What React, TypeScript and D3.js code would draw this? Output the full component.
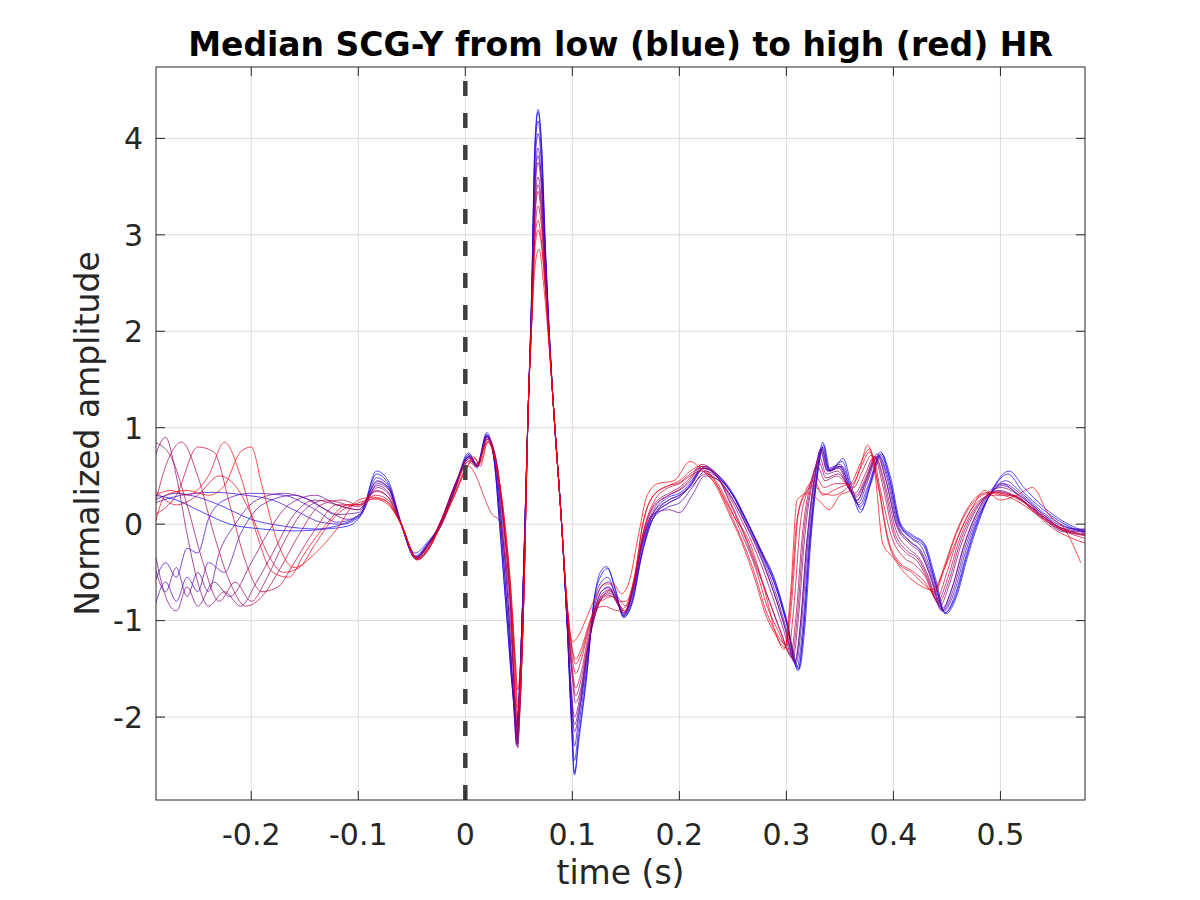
import React from "react";
import * as d3 from "d3";

// ---- data ----
const T_TICKS = [-0.2, -0.1, 0, 0.1, 0.2, 0.3, 0.4, 0.5];
const A_TICKS = [-2, -1, 0, 1, 2, 3, 4];
const T_DOMAIN = [-0.289, 0.579];
const A_DOMAIN = [-2.86, 4.74];

// median SCG-Y beats, from low HR (blue) to high HR (red): [time s, amplitude]
const curve0 = [[-0.29,0.3],[-0.27,0.25],[-0.245,0.12],[-0.22,0.0],[-0.19,-0.05],[-0.16,-0.07],[-0.13,-0.05],[-0.11,-0.02],[-0.097,0.1],[-0.083,0.52],[-0.072,0.42],[-0.06,0.0],[-0.047,-0.33],[-0.035,-0.2],[-0.022,0.0],[-0.01,0.35],[0.003,0.72],[0.011,0.6],[0.02,0.93],[0.027,0.65],[0.032,0.0],[0.039,-1.0],[0.044,-1.7],[0.048,-2.05],[0.05,-1.8],[0.053,-1.0],[0.059,1.28],[0.062,2.4],[0.065,3.9],[0.068,4.27],[0.071,3.95],[0.075,2.8],[0.082,1.28],[0.09,0.0],[0.095,-1.0],[0.099,-2.0],[0.102,-2.58],[0.106,-2.2],[0.114,-1.5],[0.12,-0.8],[0.126,-0.55],[0.133,-0.46],[0.14,-0.68],[0.148,-0.97],[0.156,-0.8],[0.165,-0.3],[0.175,0.1],[0.19,0.28],[0.2,0.32],[0.21,0.42],[0.222,0.6],[0.235,0.5],[0.25,0.3],[0.262,0.05],[0.276,-0.27],[0.29,-0.62],[0.3,-1.0],[0.311,-1.52],[0.316,-1.1],[0.322,-0.15],[0.329,0.55],[0.334,0.85],[0.34,0.56],[0.352,0.65],[0.362,0.3],[0.369,0.12],[0.378,0.4],[0.388,0.75],[0.396,0.5],[0.406,0.0],[0.418,-0.13],[0.428,-0.2],[0.438,-0.55],[0.448,-0.92],[0.458,-0.75],[0.468,-0.35],[0.478,0.0],[0.49,0.3],[0.507,0.52],[0.52,0.35],[0.54,0.15],[0.56,0.0],[0.58,-0.1]];
const curveA = [[-0.29,0.25],[-0.27,0.32],[-0.25,0.28],[-0.23,0.2],[-0.2,0.05],[-0.17,-0.02],[-0.14,-0.05],[-0.115,0.0],[-0.097,0.12],[-0.083,0.55],[-0.072,0.45],[-0.06,0.02],[-0.047,-0.3],[-0.035,-0.18],[-0.022,0.02],[-0.01,0.36],[0.003,0.74],[0.011,0.62],[0.02,0.95],[0.027,0.66],[0.032,0.0],[0.039,-1.0],[0.044,-1.72],[0.048,-2.1],[0.05,-1.82],[0.053,-1.0],[0.059,1.28],[0.062,2.45],[0.065,3.95],[0.068,4.3],[0.071,4.0],[0.075,2.85],[0.082,1.28],[0.09,0.0],[0.095,-1.02],[0.099,-2.05],[0.102,-2.6],[0.106,-2.25],[0.114,-1.52],[0.12,-0.82],[0.126,-0.5],[0.132,-0.44],[0.14,-0.66],[0.148,-0.96],[0.156,-0.82],[0.165,-0.32],[0.175,0.05],[0.19,0.25],[0.2,0.3],[0.21,0.4],[0.222,0.58],[0.235,0.52],[0.25,0.32],[0.262,0.06],[0.276,-0.26],[0.29,-0.6],[0.3,-0.98],[0.312,-1.5],[0.317,-1.1],[0.323,-0.15],[0.33,0.6],[0.335,0.82],[0.341,0.55],[0.353,0.68],[0.362,0.35],[0.37,0.15],[0.379,0.42],[0.389,0.73],[0.397,0.5],[0.407,0.0],[0.419,-0.12],[0.429,-0.2],[0.439,-0.55],[0.449,-0.93],[0.459,-0.75],[0.469,-0.35],[0.479,0.0],[0.492,0.35],[0.508,0.55],[0.522,0.38],[0.54,0.18],[0.56,0.02],[0.58,-0.08]];
const curve1 = [[-0.29,0.22],[-0.265,0.3],[-0.235,0.33],[-0.205,0.3],[-0.18,0.25],[-0.155,0.12],[-0.135,0.02],[-0.115,0.0],[-0.097,0.1],[-0.083,0.48],[-0.072,0.4],[-0.06,0.0],[-0.047,-0.35],[-0.035,-0.22],[-0.022,0.0],[-0.01,0.35],[0.003,0.7],[0.011,0.58],[0.02,0.92],[0.027,0.66],[0.033,0.0],[0.04,-1.0],[0.045,-1.75],[0.048,-2.1],[0.05,-1.85],[0.053,-1.0],[0.059,1.28],[0.062,2.35],[0.065,3.8],[0.068,4.18],[0.071,3.85],[0.075,2.75],[0.082,1.28],[0.09,0.0],[0.095,-1.0],[0.099,-1.95],[0.102,-2.45],[0.106,-2.1],[0.114,-1.45],[0.12,-0.85],[0.127,-0.6],[0.133,-0.55],[0.14,-0.72],[0.148,-0.95],[0.156,-0.78],[0.165,-0.3],[0.175,0.05],[0.19,0.22],[0.2,0.28],[0.21,0.4],[0.223,0.58],[0.236,0.5],[0.25,0.3],[0.262,0.05],[0.276,-0.28],[0.29,-0.65],[0.3,-1.02],[0.311,-1.5],[0.316,-1.1],[0.322,-0.2],[0.329,0.5],[0.334,0.8],[0.34,0.55],[0.352,0.6],[0.362,0.3],[0.369,0.18],[0.378,0.42],[0.388,0.72],[0.396,0.48],[0.406,0.0],[0.418,-0.15],[0.428,-0.22],[0.438,-0.56],[0.448,-0.92],[0.458,-0.72],[0.468,-0.32],[0.478,0.02],[0.49,0.3],[0.505,0.45],[0.52,0.32],[0.54,0.12],[0.56,-0.02],[0.58,-0.08]];
const curve2 = [[-0.29,-0.6],[-0.28,-0.4],[-0.27,-0.55],[-0.26,-0.25],[-0.25,-0.3],[-0.24,0.05],[-0.225,0.25],[-0.2,0.32],[-0.17,0.3],[-0.14,0.15],[-0.12,0.02],[-0.1,0.08],[-0.082,0.45],[-0.072,0.38],[-0.06,0.0],[-0.046,-0.34],[-0.035,-0.2],[-0.022,0.02],[-0.01,0.38],[0.004,0.72],[0.011,0.6],[0.02,0.92],[0.027,0.68],[0.033,0.0],[0.04,-1.0],[0.045,-1.8],[0.048,-2.2],[0.05,-1.9],[0.053,-1.0],[0.059,1.28],[0.062,2.3],[0.065,3.7],[0.068,4.05],[0.071,3.75],[0.075,2.7],[0.082,1.28],[0.09,0.0],[0.095,-1.0],[0.099,-1.85],[0.102,-2.3],[0.106,-2.0],[0.114,-1.4],[0.12,-0.9],[0.127,-0.65],[0.134,-0.6],[0.141,-0.75],[0.148,-0.93],[0.156,-0.75],[0.165,-0.25],[0.175,0.05],[0.19,0.18],[0.2,0.22],[0.212,0.38],[0.224,0.55],[0.236,0.48],[0.25,0.3],[0.262,0.05],[0.276,-0.28],[0.29,-0.65],[0.3,-1.02],[0.31,-1.48],[0.315,-1.1],[0.321,-0.2],[0.328,0.5],[0.333,0.78],[0.339,0.55],[0.35,0.6],[0.36,0.35],[0.368,0.2],[0.377,0.42],[0.387,0.7],[0.395,0.48],[0.405,0.0],[0.417,-0.15],[0.427,-0.25],[0.437,-0.55],[0.447,-0.9],[0.457,-0.7],[0.467,-0.3],[0.477,0.02],[0.489,0.28],[0.503,0.42],[0.52,0.3],[0.54,0.1],[0.56,-0.03],[0.58,-0.06]];
const curve3 = [[-0.29,-0.85],[-0.28,-0.6],[-0.27,-0.8],[-0.26,-0.55],[-0.25,-0.7],[-0.24,-0.4],[-0.225,-0.5],[-0.21,-0.1],[-0.19,0.2],[-0.16,0.3],[-0.13,0.15],[-0.11,0.05],[-0.095,0.15],[-0.082,0.42],[-0.071,0.35],[-0.06,0.0],[-0.046,-0.36],[-0.035,-0.22],[-0.022,0.02],[-0.01,0.38],[0.004,0.7],[0.011,0.6],[0.02,0.9],[0.028,0.66],[0.034,0.0],[0.041,-1.0],[0.045,-1.8],[0.048,-2.3],[0.05,-1.95],[0.053,-1.0],[0.059,1.28],[0.062,2.3],[0.065,3.55],[0.068,3.9],[0.071,3.6],[0.075,2.65],[0.082,1.28],[0.09,0.0],[0.095,-1.0],[0.099,-1.8],[0.102,-2.15],[0.107,-1.9],[0.114,-1.35],[0.12,-0.95],[0.127,-0.7],[0.134,-0.65],[0.141,-0.78],[0.148,-0.95],[0.156,-0.72],[0.165,-0.22],[0.175,0.08],[0.19,0.22],[0.2,0.28],[0.212,0.42],[0.224,0.6],[0.237,0.5],[0.25,0.3],[0.262,0.02],[0.276,-0.3],[0.289,-0.68],[0.299,-1.05],[0.309,-1.45],[0.314,-1.05],[0.32,-0.2],[0.327,0.5],[0.333,0.8],[0.339,0.58],[0.35,0.62],[0.36,0.35],[0.367,0.22],[0.376,0.45],[0.386,0.72],[0.394,0.48],[0.404,0.0],[0.416,-0.18],[0.426,-0.28],[0.436,-0.55],[0.446,-0.9],[0.456,-0.68],[0.466,-0.28],[0.476,0.03],[0.488,0.28],[0.502,0.4],[0.52,0.28],[0.54,0.1],[0.56,-0.05],[0.58,-0.05]];
const curveB = [[-0.29,-0.45],[-0.28,-0.7],[-0.27,-0.45],[-0.26,-0.75],[-0.25,-0.5],[-0.24,-0.7],[-0.23,-0.3],[-0.215,0.0],[-0.195,0.25],[-0.17,0.32],[-0.145,0.25],[-0.12,0.1],[-0.1,0.12],[-0.082,0.44],[-0.071,0.36],[-0.06,0.0],[-0.046,-0.34],[-0.035,-0.2],[-0.022,0.04],[-0.01,0.4],[0.004,0.7],[0.011,0.62],[0.02,0.91],[0.028,0.67],[0.034,0.0],[0.041,-1.0],[0.045,-1.85],[0.048,-2.28],[0.05,-1.95],[0.053,-1.0],[0.059,1.28],[0.062,2.28],[0.065,3.5],[0.068,3.82],[0.071,3.55],[0.075,2.62],[0.082,1.28],[0.09,0.0],[0.095,-0.98],[0.099,-1.75],[0.102,-2.08],[0.107,-1.85],[0.114,-1.32],[0.12,-0.95],[0.127,-0.7],[0.134,-0.66],[0.141,-0.8],[0.148,-0.94],[0.156,-0.7],[0.165,-0.2],[0.175,0.1],[0.19,0.15],[0.2,0.12],[0.212,0.3],[0.224,0.5],[0.237,0.45],[0.25,0.26],[0.262,0.0],[0.275,-0.3],[0.288,-0.7],[0.298,-1.05],[0.308,-1.44],[0.313,-1.05],[0.319,-0.2],[0.326,0.48],[0.332,0.78],[0.338,0.56],[0.349,0.6],[0.359,0.36],[0.366,0.24],[0.375,0.48],[0.385,0.73],[0.393,0.46],[0.403,0.0],[0.415,-0.18],[0.425,-0.28],[0.435,-0.56],[0.445,-0.9],[0.455,-0.66],[0.465,-0.26],[0.475,0.04],[0.487,0.3],[0.501,0.42],[0.52,0.26],[0.54,0.06],[0.56,-0.08],[0.58,-0.06]];
const curve4 = [[-0.29,-0.3],[-0.28,-0.75],[-0.27,-0.9],[-0.26,-0.65],[-0.25,-0.85],[-0.235,-0.6],[-0.22,-0.75],[-0.2,-0.4],[-0.185,-0.1],[-0.165,0.2],[-0.14,0.3],[-0.12,0.2],[-0.1,0.15],[-0.082,0.4],[-0.071,0.32],[-0.06,0.0],[-0.046,-0.36],[-0.035,-0.22],[-0.022,0.05],[-0.01,0.4],[0.004,0.7],[0.011,0.6],[0.02,0.9],[0.028,0.68],[0.035,0.0],[0.042,-1.0],[0.046,-1.8],[0.048,-2.25],[0.05,-1.95],[0.053,-1.0],[0.059,1.28],[0.062,2.25],[0.065,3.4],[0.068,3.75],[0.071,3.5],[0.075,2.6],[0.082,1.28],[0.09,0.0],[0.095,-0.95],[0.099,-1.7],[0.102,-2.0],[0.107,-1.8],[0.114,-1.3],[0.121,-0.95],[0.128,-0.72],[0.135,-0.68],[0.142,-0.8],[0.148,-0.92],[0.156,-0.7],[0.165,-0.2],[0.175,0.1],[0.19,0.25],[0.2,0.3],[0.212,0.4],[0.224,0.52],[0.237,0.45],[0.25,0.25],[0.262,0.0],[0.275,-0.32],[0.288,-0.7],[0.298,-1.05],[0.308,-1.42],[0.313,-1.05],[0.319,-0.2],[0.326,0.45],[0.332,0.75],[0.338,0.55],[0.349,0.58],[0.359,0.35],[0.366,0.25],[0.375,0.45],[0.385,0.7],[0.393,0.45],[0.403,-0.02],[0.415,-0.2],[0.425,-0.3],[0.435,-0.55],[0.445,-0.88],[0.455,-0.65],[0.465,-0.25],[0.475,0.05],[0.487,0.28],[0.5,0.38],[0.52,0.28],[0.54,0.08],[0.56,-0.05],[0.58,-0.08]];
const curve5 = [[-0.29,0.7],[-0.28,0.9],[-0.27,0.5],[-0.26,-0.1],[-0.25,-0.6],[-0.24,-0.85],[-0.225,-0.7],[-0.21,-0.85],[-0.195,-0.6],[-0.18,-0.3],[-0.16,0.1],[-0.14,0.25],[-0.12,0.2],[-0.1,0.15],[-0.082,0.38],[-0.071,0.3],[-0.06,0.0],[-0.046,-0.35],[-0.035,-0.22],[-0.022,0.05],[-0.01,0.4],[0.004,0.68],[0.011,0.6],[0.02,0.88],[0.028,0.7],[0.036,0.0],[0.043,-1.0],[0.046,-1.8],[0.049,-2.32],[0.051,-1.95],[0.054,-1.0],[0.059,1.28],[0.062,2.2],[0.065,3.3],[0.068,3.6],[0.071,3.35],[0.075,2.55],[0.082,1.28],[0.09,0.0],[0.095,-0.9],[0.1,-1.6],[0.103,-1.85],[0.108,-1.7],[0.115,-1.25],[0.122,-0.92],[0.129,-0.74],[0.136,-0.7],[0.143,-0.82],[0.149,-0.9],[0.157,-0.65],[0.166,-0.15],[0.176,0.15],[0.19,0.3],[0.2,0.35],[0.211,0.45],[0.222,0.58],[0.236,0.48],[0.25,0.22],[0.262,-0.05],[0.275,-0.38],[0.287,-0.75],[0.297,-1.08],[0.306,-1.4],[0.311,-1.0],[0.317,-0.15],[0.324,0.42],[0.331,0.7],[0.337,0.52],[0.348,0.55],[0.358,0.38],[0.365,0.28],[0.374,0.45],[0.384,0.68],[0.392,0.42],[0.402,-0.05],[0.414,-0.25],[0.424,-0.35],[0.433,-0.55],[0.443,-0.85],[0.453,-0.6],[0.463,-0.22],[0.473,0.06],[0.485,0.27],[0.498,0.35],[0.52,0.25],[0.54,0.08],[0.56,-0.06],[0.58,-0.1]];
const curveC = [[-0.29,0.85],[-0.275,0.7],[-0.26,0.2],[-0.245,-0.4],[-0.23,-0.8],[-0.215,-0.6],[-0.2,-0.8],[-0.185,-0.55],[-0.17,-0.2],[-0.15,0.15],[-0.13,0.25],[-0.11,0.2],[-0.1,0.18],[-0.083,0.34],[-0.072,0.28],[-0.06,0.0],[-0.045,-0.34],[-0.034,-0.22],[-0.022,0.06],[-0.01,0.4],[0.004,0.68],[0.011,0.62],[0.021,0.9],[0.029,0.66],[0.036,0.0],[0.043,-1.0],[0.046,-1.75],[0.049,-2.28],[0.051,-1.92],[0.054,-1.0],[0.059,1.28],[0.062,2.18],[0.065,3.2],[0.068,3.52],[0.071,3.28],[0.075,2.5],[0.082,1.28],[0.09,0.0],[0.095,-0.9],[0.1,-1.55],[0.103,-1.78],[0.108,-1.62],[0.115,-1.2],[0.122,-0.9],[0.129,-0.76],[0.136,-0.74],[0.143,-0.84],[0.149,-0.92],[0.157,-0.64],[0.166,-0.12],[0.176,0.18],[0.19,0.3],[0.2,0.36],[0.21,0.46],[0.221,0.6],[0.235,0.5],[0.248,0.2],[0.26,-0.1],[0.272,-0.45],[0.285,-0.82],[0.295,-1.12],[0.305,-1.38],[0.31,-0.98],[0.316,-0.12],[0.323,0.4],[0.33,0.65],[0.337,0.48],[0.348,0.52],[0.358,0.4],[0.365,0.3],[0.374,0.48],[0.383,0.7],[0.391,0.42],[0.401,-0.08],[0.413,-0.28],[0.423,-0.36],[0.432,-0.55],[0.442,-0.82],[0.452,-0.58],[0.462,-0.2],[0.472,0.07],[0.484,0.26],[0.497,0.34],[0.518,0.26],[0.538,0.09],[0.558,-0.06],[0.58,-0.11]];
const curve6 = [[-0.29,0.2],[-0.28,0.6],[-0.265,0.85],[-0.25,0.5],[-0.235,-0.1],[-0.22,-0.6],[-0.205,-0.85],[-0.19,-0.75],[-0.175,-0.5],[-0.155,-0.1],[-0.135,0.2],[-0.115,0.25],[-0.1,0.2],[-0.083,0.35],[-0.072,0.28],[-0.06,0.0],[-0.045,-0.36],[-0.034,-0.24],[-0.022,0.05],[-0.01,0.38],[0.004,0.66],[0.011,0.6],[0.021,0.88],[0.029,0.65],[0.036,0.0],[0.043,-1.0],[0.046,-1.7],[0.049,-2.2],[0.051,-1.9],[0.054,-1.0],[0.059,1.28],[0.062,2.15],[0.065,3.15],[0.068,3.45],[0.071,3.2],[0.075,2.5],[0.082,1.28],[0.09,0.0],[0.095,-0.88],[0.1,-1.5],[0.103,-1.7],[0.108,-1.55],[0.115,-1.15],[0.122,-0.88],[0.129,-0.75],[0.136,-0.72],[0.143,-0.82],[0.149,-0.9],[0.157,-0.62],[0.166,-0.1],[0.176,0.2],[0.19,0.32],[0.2,0.38],[0.21,0.48],[0.221,0.62],[0.235,0.5],[0.248,0.22],[0.26,-0.08],[0.272,-0.42],[0.284,-0.8],[0.294,-1.1],[0.304,-1.35],[0.309,-0.95],[0.315,-0.1],[0.322,0.4],[0.329,0.6],[0.336,0.45],[0.347,0.5],[0.357,0.4],[0.364,0.32],[0.373,0.5],[0.382,0.7],[0.39,0.4],[0.4,-0.1],[0.412,-0.3],[0.422,-0.38],[0.431,-0.55],[0.441,-0.8],[0.451,-0.55],[0.461,-0.18],[0.471,0.08],[0.483,0.26],[0.496,0.33],[0.515,0.28],[0.535,0.1],[0.555,-0.05],[0.58,-0.12]];
const curve7 = [[-0.29,0.1],[-0.27,0.3],[-0.25,0.8],[-0.235,0.75],[-0.22,0.2],[-0.205,-0.4],[-0.19,-0.7],[-0.175,-0.65],[-0.16,-0.4],[-0.14,-0.05],[-0.12,0.2],[-0.1,0.2],[-0.084,0.3],[-0.073,0.26],[-0.06,0.0],[-0.045,-0.37],[-0.034,-0.25],[-0.022,0.05],[-0.01,0.35],[0.003,0.65],[0.01,0.6],[0.021,0.86],[0.029,0.6],[0.036,0.0],[0.044,-1.0],[0.047,-1.65],[0.049,-2.1],[0.051,-1.85],[0.054,-1.0],[0.059,1.28],[0.062,2.1],[0.065,3.0],[0.068,3.3],[0.071,3.1],[0.075,2.45],[0.082,1.28],[0.09,0.0],[0.095,-0.85],[0.1,-1.4],[0.103,-1.55],[0.108,-1.42],[0.115,-1.1],[0.122,-0.85],[0.13,-0.72],[0.137,-0.68],[0.144,-0.78],[0.15,-0.85],[0.158,-0.6],[0.167,-0.05],[0.177,0.25],[0.19,0.38],[0.2,0.42],[0.21,0.5],[0.22,0.55],[0.234,0.45],[0.247,0.18],[0.259,-0.12],[0.271,-0.45],[0.282,-0.85],[0.292,-1.1],[0.302,-1.3],[0.307,-0.85],[0.313,0.0],[0.32,0.35],[0.327,0.5],[0.335,0.38],[0.346,0.42],[0.356,0.42],[0.363,0.38],[0.371,0.55],[0.38,0.72],[0.388,0.35],[0.398,-0.12],[0.41,-0.35],[0.42,-0.42],[0.43,-0.55],[0.44,-0.78],[0.45,-0.5],[0.46,-0.15],[0.47,0.1],[0.482,0.26],[0.494,0.3],[0.512,0.3],[0.532,0.12],[0.555,-0.05],[0.58,-0.15]];
const curveD = [[-0.29,0.35],[-0.27,0.2],[-0.25,0.3],[-0.23,0.5],[-0.215,0.4],[-0.2,0.1],[-0.185,-0.3],[-0.17,-0.5],[-0.155,-0.45],[-0.14,-0.2],[-0.12,0.1],[-0.1,0.22],[-0.085,0.26],[-0.074,0.22],[-0.06,0.0],[-0.045,-0.37],[-0.034,-0.26],[-0.022,0.02],[-0.01,0.32],[0.003,0.6],[0.01,0.5],[0.017,0.3],[0.025,0.1],[0.031,0.05],[0.038,-0.4],[0.044,-1.0],[0.047,-1.45],[0.049,-1.72],[0.051,-1.55],[0.054,-1.0],[0.059,1.28],[0.062,2.08],[0.065,2.95],[0.068,3.15],[0.071,2.95],[0.075,2.42],[0.082,1.28],[0.09,0.0],[0.095,-0.82],[0.1,-1.32],[0.103,-1.45],[0.108,-1.35],[0.115,-1.08],[0.122,-0.88],[0.13,-0.85],[0.137,-0.88],[0.144,-0.9],[0.15,-0.85],[0.158,-0.55],[0.166,0.02],[0.176,0.3],[0.19,0.4],[0.2,0.43],[0.21,0.52],[0.219,0.58],[0.233,0.42],[0.246,0.12],[0.258,-0.18],[0.27,-0.55],[0.281,-0.95],[0.29,-1.15],[0.299,-1.28],[0.304,-0.8],[0.31,0.05],[0.317,0.3],[0.325,0.4],[0.334,0.32],[0.344,0.3],[0.354,0.35],[0.362,0.45],[0.37,0.65],[0.378,0.78],[0.386,0.38],[0.395,-0.18],[0.406,-0.42],[0.417,-0.5],[0.428,-0.62],[0.438,-0.7],[0.448,-0.42],[0.458,-0.1],[0.468,0.14],[0.48,0.3],[0.49,0.33],[0.508,0.3],[0.528,0.18],[0.55,0.0],[0.58,-0.12]];
const curve8 = [[-0.29,0.3],[-0.275,0.35],[-0.26,0.3],[-0.24,0.5],[-0.225,0.85],[-0.21,0.5],[-0.195,-0.1],[-0.18,-0.5],[-0.165,-0.55],[-0.15,-0.3],[-0.13,0.0],[-0.11,0.2],[-0.098,0.2],[-0.085,0.27],[-0.074,0.24],[-0.06,0.0],[-0.045,-0.36],[-0.034,-0.25],[-0.022,0.02],[-0.01,0.3],[0.003,0.62],[0.009,0.68],[0.014,0.6],[0.021,0.85],[0.03,0.55],[0.037,0.0],[0.044,-0.9],[0.047,-1.5],[0.049,-1.9],[0.051,-1.7],[0.054,-1.0],[0.059,1.28],[0.062,2.05],[0.065,2.85],[0.068,3.05],[0.071,2.9],[0.075,2.4],[0.082,1.28],[0.09,0.0],[0.095,-0.82],[0.1,-1.3],[0.103,-1.4],[0.108,-1.3],[0.115,-1.05],[0.122,-0.85],[0.13,-0.78],[0.137,-0.75],[0.144,-0.8],[0.15,-0.8],[0.158,-0.55],[0.166,0.0],[0.176,0.3],[0.19,0.4],[0.2,0.45],[0.21,0.55],[0.219,0.6],[0.233,0.45],[0.246,0.15],[0.258,-0.15],[0.27,-0.5],[0.281,-0.9],[0.29,-1.12],[0.3,-1.25],[0.305,-0.8],[0.311,0.1],[0.318,0.35],[0.326,0.45],[0.334,0.3],[0.344,0.35],[0.354,0.4],[0.362,0.42],[0.37,0.6],[0.378,0.75],[0.386,0.4],[0.395,-0.15],[0.406,-0.4],[0.417,-0.48],[0.428,-0.58],[0.438,-0.72],[0.448,-0.45],[0.458,-0.12],[0.468,0.12],[0.48,0.28],[0.49,0.32],[0.508,0.28],[0.528,0.15],[0.55,-0.05],[0.58,-0.2]];
const curve9 = [[-0.29,0.0],[-0.28,0.3],[-0.26,0.35],[-0.24,0.3],[-0.225,0.4],[-0.21,0.75],[-0.2,0.8],[-0.19,0.4],[-0.175,-0.2],[-0.16,-0.45],[-0.14,-0.3],[-0.12,-0.05],[-0.1,0.25],[-0.086,0.28],[-0.075,0.25],[-0.06,0.0],[-0.045,-0.36],[-0.035,-0.25],[-0.022,0.0],[-0.01,0.3],[0.002,0.6],[0.008,0.7],[0.013,0.62],[0.021,0.85],[0.03,0.55],[0.037,0.0],[0.044,-1.0],[0.048,-2.0],[0.051,-1.8],[0.054,-1.0],[0.059,1.28],[0.062,2.1],[0.066,2.75],[0.069,2.85],[0.073,2.5],[0.082,1.28],[0.09,0.0],[0.095,-0.8],[0.1,-1.22],[0.106,-1.15],[0.114,-0.95],[0.122,-0.75],[0.13,-0.62],[0.138,-0.62],[0.146,-0.72],[0.153,-0.6],[0.162,-0.1],[0.17,0.3],[0.18,0.42],[0.195,0.45],[0.21,0.65],[0.222,0.55],[0.235,0.4],[0.25,0.1],[0.266,-0.2],[0.28,-0.7],[0.29,-1.13],[0.298,-1.3],[0.304,-0.7],[0.31,0.25],[0.32,0.32],[0.33,0.25],[0.34,0.15],[0.35,0.3],[0.36,0.35],[0.368,0.55],[0.376,0.82],[0.383,0.5],[0.39,-0.2],[0.4,-0.35],[0.41,-0.5],[0.42,-0.6],[0.436,-0.68],[0.45,-0.4],[0.463,-0.06],[0.475,0.2],[0.485,0.35],[0.5,0.25],[0.515,0.3],[0.53,0.38],[0.545,0.1],[0.56,-0.05],[0.575,-0.4]];

const CURVES = [curve0, curveA, curve1, curve2, curve3, curveB, curve4, curve5, curveC, curve6, curve7, curveD, curve8, curve9];

// ---- layout ----
const W = 1200, H = 900;
const L = 156, R = 1085, TOP = 67, BOT = 800;
const FONT = "DejaVu Sans, Liberation Sans, sans-serif";
const AX = "#262626";

export default function App() {
  const x = d3.scaleLinear().domain(T_DOMAIN).range([L, R]);
  const y = d3.scaleLinear().domain(A_DOMAIN).range([BOT, TOP]);
  const line = d3
    .line<number[]>()
    .x((d) => x(d[0]))
    .y((d) => y(d[1]))
    .curve(d3.curveMonotoneX);
  const color = d3.interpolateRgb("rgb(0,0,255)", "rgb(255,0,0)");
  const tl = 9;

  return (
    <svg
      width={W}
      height={H}
      style={{ position: "absolute", left: 0, top: 0, background: "#fff" }}
      fontFamily={FONT}
    >
      <defs>
        <clipPath id="plotclip">
          <rect x={L} y={TOP} width={R - L} height={BOT - TOP} />
        </clipPath>
      </defs>
      <rect x={0} y={0} width={W} height={H} fill="#fff" />
      {/* grid */}
      <g stroke="#dcdcdc" strokeWidth={1}>
        {T_TICKS.map((t) => (
          <line key={"gx" + t} x1={x(t)} x2={x(t)} y1={TOP} y2={BOT} />
        ))}
        {A_TICKS.map((a) => (
          <line key={"gy" + a} x1={L} x2={R} y1={y(a)} y2={y(a)} />
        ))}
      </g>
      {/* curves */}
      <g clipPath="url(#plotclip)" fill="none">
        {CURVES.map((c, i) => (
          <path
            key={i}
            d={line(c) || ""}
            stroke={color(i / (CURVES.length - 1))}
            strokeWidth={1}
            strokeOpacity={0.7}
          />
        ))}
        <line
          x1={x(0)}
          x2={x(0)}
          y1={BOT}
          y2={TOP}
          stroke="#404040"
          strokeWidth={4.5}
          strokeDasharray="15 17"
        />
      </g>
      {/* box and ticks */}
      <g stroke={AX} strokeWidth={1} fill="none">
        <rect x={L} y={TOP} width={R - L} height={BOT - TOP} />
        {T_TICKS.map((t) => (
          <g key={"tx" + t}>
            <line x1={x(t)} x2={x(t)} y1={BOT} y2={BOT - tl} />
            <line x1={x(t)} x2={x(t)} y1={TOP} y2={TOP + tl} />
          </g>
        ))}
        {A_TICKS.map((a) => (
          <g key={"ty" + a}>
            <line x1={L} x2={L + tl} y1={y(a)} y2={y(a)} />
            <line x1={R} x2={R - tl} y1={y(a)} y2={y(a)} />
          </g>
        ))}
      </g>
      {/* tick labels */}
      <g fill={AX} fontSize={30}>
        {T_TICKS.map((t) => (
          <text key={"lx" + t} x={x(t)} y={845} textAnchor="middle">
            {String(t)}
          </text>
        ))}
        {A_TICKS.map((a) => (
          <text key={"ly" + a} x={143} y={y(a)} dy="0.36em" textAnchor="end">
            {String(a)}
          </text>
        ))}
      </g>
      {/* axis labels */}
      <text x={(L + R) / 2} y={884} textAnchor="middle" fontSize={33} fill={AX}>
        time (s)
      </text>
      <text
        transform={`translate(99,${(TOP + BOT) / 2}) rotate(-90)`}
        textAnchor="middle"
        fontSize={33}
        fill={AX}
      >
        Normalized amplitude
      </text>
      <text
        x={(L + R) / 2}
        y={56}
        textAnchor="middle"
        fontSize={33}
        fontWeight="bold"
        fill="#000"
      >
        Median SCG-Y from low (blue) to high (red) HR
      </text>
    </svg>
  );
}
